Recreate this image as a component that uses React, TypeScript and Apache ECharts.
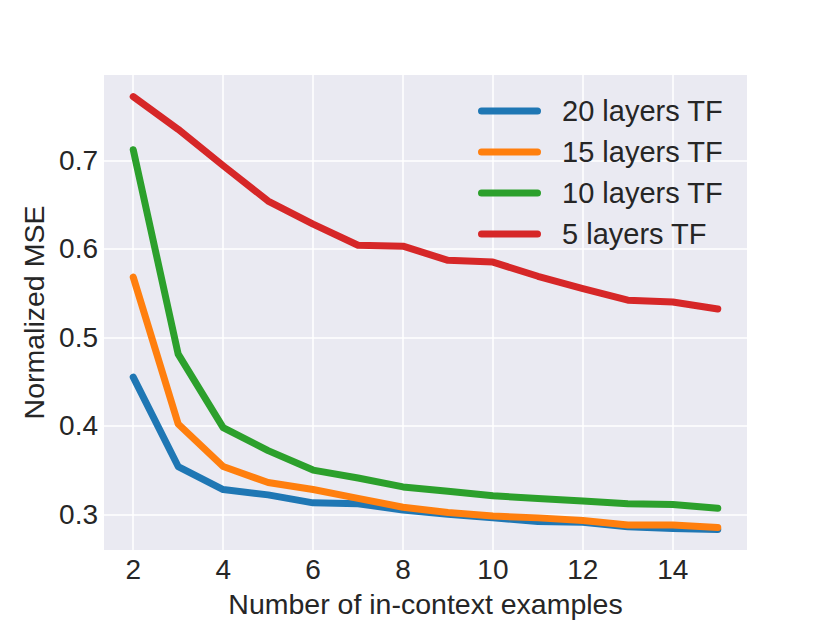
import React, { useEffect, useRef } from "react";
import * as echarts from "echarts";

const xValues = [2, 3, 4, 5, 6, 7, 8, 9, 10, 11, 12, 13, 14, 15];
const seriesNames = ["20 layers TF", "15 layers TF", "10 layers TF", "5 layers TF"];
const tf20 = [0.455, 0.354, 0.328, 0.322, 0.313, 0.312, 0.305, 0.3, 0.296, 0.292, 0.291, 0.286, 0.284, 0.283];
const tf15 = [0.568, 0.402, 0.354, 0.336, 0.328, 0.318, 0.308, 0.302, 0.298, 0.296, 0.293, 0.288, 0.288, 0.285];
const tf10 = [0.712, 0.481, 0.398, 0.372, 0.35, 0.341, 0.331, 0.326, 0.321, 0.318, 0.315, 0.312, 0.311, 0.307];
const tf5 = [0.772, 0.735, 0.694, 0.654, 0.628, 0.604, 0.603, 0.587, 0.585, 0.569, 0.555, 0.542, 0.54, 0.532];
const xTicks = [2, 4, 6, 8, 10, 12, 14];
const yTicks = [0.3, 0.4, 0.5, 0.6, 0.7];
const colors = ["#1f77b4", "#ff7f0e", "#2ca02c", "#d62728"];

const FONT = "'Liberation Sans', Arial, sans-serif";
const TEXT = "#262626";

export default function App() {
  const ref = useRef<HTMLDivElement>(null);
  useEffect(() => {
    document.body.style.margin = "0";
    if (!ref.current) return;
    const chart = echarts.init(ref.current, undefined, { renderer: "svg" });
    const all = [tf20, tf15, tf10, tf5];
    const legendIcon =
      "path://M3.5,0 H59.5 A3.5,3.5 0 0 1 59.5,7 H3.5 A3.5,3.5 0 0 1 3.5,0 Z";
    chart.setOption({
      animation: false,
      backgroundColor: "#ffffff",
      textStyle: { fontFamily: FONT },
      grid: {
        left: 104,
        top: 75,
        right: 83,
        bottom: 69,
        show: true,
        backgroundColor: "#EAEAF2",
        borderWidth: 0,
      },
      legend: {
        orient: "vertical",
        left: 478,
        top: 96.5,
        padding: 0,
        itemWidth: 63,
        itemHeight: 7,
        itemGap: 12,
        icon: legendIcon,
        data: seriesNames,
        textStyle: {
          fontFamily: FONT,
          fontSize: 29,
          lineHeight: 29,
          color: TEXT,
          padding: [0, 0, 0, 16],
        },
      },
      xAxis: {
        type: "value",
        min: 1.35,
        max: 15.65,
        name: "Number of in-context examples",
        nameLocation: "middle",
        nameGap: 39,
        nameTextStyle: { fontFamily: FONT, fontSize: 28.5, color: TEXT },
        axisLine: { show: false },
        axisTick: { show: false, customValues: xTicks },
        axisLabel: {
          customValues: xTicks,
          fontFamily: FONT,
          fontSize: 28,
          color: TEXT,
          margin: 5,
        },
        splitLine: { show: true, lineStyle: { color: "#ffffff", width: 1.5 } },
      },
      yAxis: {
        type: "value",
        min: 0.2597,
        max: 0.7964,
        name: "Normalized MSE",
        nameLocation: "middle",
        nameGap: 56,
        nameTextStyle: { fontFamily: FONT, fontSize: 28.5, color: TEXT },
        axisLine: { show: false },
        axisTick: { show: false, customValues: yTicks },
        axisLabel: {
          customValues: yTicks,
          fontFamily: FONT,
          fontSize: 28,
          color: TEXT,
          margin: 6,
          formatter: (v: number) => v.toFixed(1),
        },
        splitLine: { show: true, lineStyle: { color: "#ffffff", width: 1.5 } },
      },
      series: seriesNames.map((name, i) => ({
        name,
        type: "line",
        data: xValues.map((x, j) => [x, all[i][j]]),
        showSymbol: false,
        symbol: "none",
        color: colors[i],
        lineStyle: { color: colors[i], width: 7, cap: "round", join: "round" },
        z: 2 + i,
      })),
    });
    return () => chart.dispose();
  }, []);
  return <div ref={ref} style={{ width: 830, height: 623 }} />;
}
